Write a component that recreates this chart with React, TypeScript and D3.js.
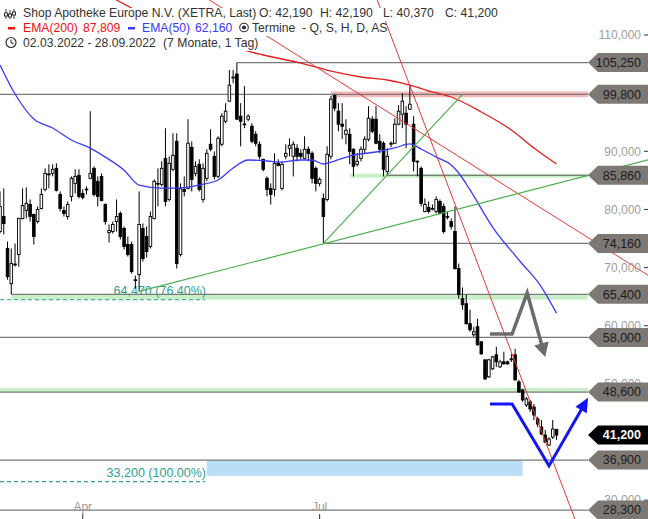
import React from "react";
import * as d3 from "d3";

const W = 648;
const H = 519;
const FONT = "'Liberation Sans', Arial, sans-serif";

// ---- daily OHLC (EUR), 02.03.2022 - 28.09.2022 ----
const opens = [76.21,78.79,73.28,67.24,70.6,72.24,78.45,79.83,80.86,79.14,77.93,80.17,83.45,86.1,86.21,87.07,82.59,79.83,78.79,82.24,84.48,85.86,82.76,83.45,85.35,87.07,84.83,85.69,80.86,76.03,76.21,77.93,79.31,76.72,73.97,73.97,67.9,68.79,76.72,75.35,73.62,78.45,84.4,84.31,88.79,81.72,86.9,91.72,72.24,83.45,83.62,90.69,86.21,87.76,81.72,85.35,91.21,89.14,85.69,91.21,95.17,98.62,102.7,103.28,96.04,94.7,95.52,94.31,92.93,91.21,88.62,85.35,83.62,83.45,87.93,83.62,89.14,90.52,89.14,90.52,89.65,88.79,90.35,89.65,87.07,84.48,81.9,81.72,89.14,99.6,96.9,94.66,92.93,92.93,90.35,87.76,88.79,90.35,92.07,95.52,95.52,91.72,91.38,86.55,91.21,91.38,94.66,96.38,96.55,97.24,94.66,88.3,87.07,79.66,80.35,80.1,79.66,81.38,80.52,78.7,77.93,76.21,69.83,64.66,63.79,60.35,58.45,59.83,57.24,54.14,51.21,52.59,55.0,52.93,53.79,53.79,54.14,55.0,50.35,48.97,46.38,46.9,46.03,43.97,42.59,41.21,39.48,40.86,42.19];
const highs = [83.1,83.62,74.48,73.28,74.14,78.6,83.62,83.79,81.72,79.31,80.52,83.62,87.07,87.76,87.76,87.93,83.1,80.52,81.38,85.69,86.9,86.9,83.45,83.97,96.9,87.41,85.69,86.21,81.03,77.41,77.93,81.72,79.66,77.07,75.35,74.48,68.62,83.1,77.59,77.07,79.66,85.17,87.07,88.28,93.97,89.14,93.1,93.1,84.48,85.69,95.52,91.72,88.28,88.62,87.93,90.35,93.79,90.0,92.59,96.55,98.28,103.97,103.97,105.25,98.28,101.21,96.38,94.83,93.45,91.72,88.7,85.69,84.48,89.65,88.62,88.28,91.21,92.24,91.72,91.21,90.35,92.59,90.86,90.0,87.41,85.52,82.76,90.86,99.48,99.8,98.28,98.28,95.52,93.97,90.52,89.65,90.86,92.59,97.76,96.04,97.76,92.93,91.72,90.52,91.72,95.69,97.93,100.0,97.76,101.21,96.04,88.4,87.41,81.9,81.38,80.86,82.24,81.72,81.03,79.66,78.45,80.52,70.69,66.59,65.35,62.76,59.83,61.21,57.3,54.2,54.31,54.83,56.38,54.14,55.52,54.0,55.17,56.03,50.69,49.14,47.76,47.24,46.55,44.31,43.79,42.07,40.86,43.79,42.19];
const lows = [75.86,75.69,67.93,65.4,70.17,70.17,78.28,78.45,77.93,73.97,77.59,80.0,83.1,83.62,85.69,83.1,79.66,78.79,78.28,81.38,82.76,81.9,81.72,82.59,85.17,82.24,80.52,81.38,77.41,74.31,75.86,76.21,74.83,73.1,71.9,68.97,66.38,65.86,71.03,71.72,73.28,78.28,80.52,83.97,80.52,81.38,86.55,69.83,71.9,82.24,83.45,83.1,85.69,83.1,81.21,84.83,90.0,85.17,85.35,90.86,94.83,98.5,101.72,95.4,90.86,93.97,95.17,91.38,90.86,88.62,86.55,82.24,80.86,82.24,87.41,83.28,88.62,89.14,85.69,88.28,88.62,88.62,88.28,84.48,83.1,83.97,74.16,81.38,88.62,96.9,93.45,92.1,91.21,87.76,85.69,87.41,88.28,89.65,91.72,93.1,91.21,89.65,85.69,85.86,90.69,91.3,94.48,93.97,90.52,97.1,86.55,85.69,80.52,79.48,79.31,79.83,79.31,79.14,75.86,78.28,76.55,69.66,64.66,62.76,60.2,58.97,58.1,56.6,55.0,50.69,51.03,52.41,52.93,52.76,53.28,53.3,53.79,50.6,48.45,46.9,46.03,45.17,43.79,42.59,41.21,39.83,39.31,40.52,40.37];
const closes = [80.52,77.59,68.45,70.69,70.52,78.45,80.69,81.03,78.79,75.35,80.0,82.59,86.21,86.03,86.9,83.28,80.17,79.31,80.86,85.35,85.69,82.24,82.07,83.5,86.21,82.59,82.24,81.55,77.93,76.38,77.41,78.79,75.35,73.62,72.24,69.31,67.76,77.41,71.55,72.76,78.79,84.83,84.48,87.07,81.38,87.93,89.31,70.69,83.62,83.1,91.38,85.17,87.41,83.45,87.07,89.65,90.35,85.69,92.24,96.04,96.9,101.38,102.76,95.52,95.17,94.66,96.04,91.72,91.38,89.14,86.9,83.45,82.59,87.93,87.59,87.76,89.65,91.03,91.21,89.14,89.14,90.35,89.65,85.35,84.48,85.17,78.79,89.48,98.97,97.41,94.66,94.31,93.62,90.0,87.41,88.28,90.35,92.07,95.69,93.45,91.38,90.35,86.9,89.14,91.38,94.66,96.9,98.62,94.66,98.1,88.28,88.28,81.03,80.86,79.66,80.17,81.72,79.31,76.21,78.79,77.07,69.83,65.35,63.62,60.35,59.31,58.97,56.72,55.17,50.86,54.14,54.66,53.79,53.79,53.45,53.45,54.31,50.69,48.62,47.24,47.41,45.69,44.66,43.1,41.38,40.0,40.52,42.24,41.2];

// ---- moving averages (at sample candles) ----
const ema50Idx = [0,4,9,14,19,24,28,33,37,43,47,53,58,62,66,71,74,80,83,86,88,94,100,105,109,112,116,120,122,125,131,138,144,148];
const ema50Val = [104.84,99.85,95.55,94.0,91.94,90.54,89.0,86.76,84.2,83.68,83.68,84.2,85.06,87.13,88.5,88.33,88.15,88.5,88.5,87.82,88.15,89.36,89.88,90.57,91.26,90.4,89.0,87.64,86.27,83.35,76.98,71.31,66.66,62.16];
const ema200Idx = [28,31,35,41,51,60,70,80,89,96,103,109,115,120,128,136,142,148];
const ema200Val = [117.2,116.02,114.64,113.1,110.52,108.28,106.56,105.18,103.64,102.78,102.26,101.4,100.2,99.34,96.76,93.66,90.57,87.81];

// ---- horizontal levels ----
const levelValues = [105.25, 99.8, 85.86, 74.16, 65.4, 58.0, 48.6, 36.9, 28.3];
const levelStartIdx = [63, -2, 103, 86, 3, -2, -2, -2, -2];
const lastClose = 41.2;

// zones
const zoneStart = [88, 93, 3, -2, 55];
const zoneEnd = [null, null, null, null, 139];
const zoneTop = [100.3, 86.15, 65.4, 49.3, 36.9];
const zoneBottom = [99.3, 85.45, 64.47, 48.6, 34.2];
const zoneColor = ["#f6b9b9", "#c8efc8", "#c8efc8", "#c8efc8", "#b9def6"];

// fibonacci levels
const fibValues = [64.47, 33.2];
const fibLabels = ["64,470 (76.40%)", "33,200 (100.00%)"];

// trend lines (anchor points: [index, price])
const redLines = [
  [[109, 101.3], [152.9, 26.77]],
  [[79, 106.56], [157.4, 74.75]],
];
const greenSegment = [[86, 74.16], [123, 99.8]];
const greenRay = [[37, 65.9], [172.3, 88.5]];

// drawn forecast arrows ([index, price])
const blueArrow = [[130.3, 46.55], [136.2, 46.55], [146.0, 35.9], [156.4, 47.6]];
const grayArrow = [[130.3, 58.58], [136.2, 58.58], [140.2, 65.63], [145.0, 54.63]];

// visible axis ticks (100 and 40 sit fully under the price tags)
const yTicks = [30, 50, 60, 70, 80, 90, 110];
const monthLabels = ["Apr", "Jul"];
const monthNums = [3, 6];
const holidays = ["2022-04-15", "2022-04-18"];

const fmtDE = (v: number) => v.toFixed(3).replace(".", ",");

export default function App() {
  const x = d3.scaleLinear().domain([0, 148]).range([0, 556.5]);
  const y = d3.scaleLinear().domain([30, 110]).range([500.2, 35]);

  const dayFmt = d3.timeFormat("%Y-%m-%d");
  const dates = d3
    .timeDay.range(new Date(2022, 2, 2), new Date(2022, 8, 29))
    .filter((d) => d.getDay() % 6 !== 0 && !holidays.includes(dayFmt(d)));
  const monthIdx = monthNums.map((m) => dates.findIndex((d) => d.getMonth() === m));

  const tagTip = 588;
  const tagBase = 598;

  const ema50Path = d3
    .line<number>()
    .x((_, i) => x(ema50Idx[i]))
    .y((d) => y(d))
    .curve(d3.curveMonotoneX)(ema50Val) as string;
  const ema200Path = d3
    .line<number>()
    .x((_, i) => x(ema200Idx[i]))
    .y((d) => y(d))
    .curve(d3.curveMonotoneX)(ema200Val) as string;

  const extend = (seg: number[][], left: boolean, right: boolean) => {
    const x1 = x(seg[0][0]), y1 = y(seg[0][1]);
    const x2 = x(seg[1][0]), y2 = y(seg[1][1]);
    const k = (y2 - y1) / (x2 - x1);
    const xa = left ? -100 : x1;
    const xb = right ? 760 : x2;
    return { x1: xa, y1: y1 + (xa - x1) * k, x2: xb, y2: y1 + (xb - x1) * k };
  };

  const arrow = (pts: number[][], len: number, wid: number) => {
    const px = pts.map((p) => [x(p[0]), y(p[1])]);
    const tip = px[px.length - 1];
    const prev = px[px.length - 2];
    const dx = tip[0] - prev[0], dy = tip[1] - prev[1];
    const L = Math.hypot(dx, dy);
    const ux = dx / L, uy = dy / L;
    const bx = tip[0] - ux * len, by = tip[1] - uy * len;
    const shaft = [...px.slice(0, -1), [bx + ux * 2, by + uy * 2]];
    const head = [
      tip,
      [bx - uy * wid / 2, by + ux * wid / 2],
      [bx + uy * wid / 2, by - ux * wid / 2],
    ];
    return {
      shaft: shaft.map((p) => p.join(",")).join(" "),
      head: head.map((p) => p.join(",")).join(" "),
    };
  };
  const bA = arrow(blueArrow, 14, 13);
  const gA = arrow(grayArrow, 14, 15);

  const tag = (v: number, fill: string, color: string, bold: boolean, key: string) => {
    const yy = y(v);
    const h = 9.5;
    return (
      <g key={key}>
        <polygon
          points={`${tagTip},${yy} ${tagBase},${yy - h} ${W},${yy - h} ${W},${yy + h} ${tagBase},${yy + h}`}
          fill={fill}
        />
        <text
          x={641}
          y={yy}
          dy="0.35em"
          textAnchor="end"
          fontSize={12.5}
          fontWeight={bold ? "bold" : "normal"}
          fill={color}
        >
          {fmtDE(v)}
        </text>
      </g>
    );
  };

  return (
    <svg
      width={W}
      height={H}
      style={{ position: "absolute", left: 0, top: 0, display: "block", background: "#fff" }}
      fontFamily={FONT}
    >
      <defs>
        <clipPath id="plot">
          <rect x={0} y={0} width={W} height={H} />
        </clipPath>
      </defs>
      <rect width={W} height={H} fill="#fff" />
      <g clipPath="url(#plot)">
        {zoneTop.map((t, i) => {
          const x0 = Math.max(0, x(zoneStart[i]));
          const x1 = zoneEnd[i] === null ? tagTip : x(zoneEnd[i] as number);
          return (
            <rect
              key={"z" + i}
              x={x0}
              y={y(t)}
              width={x1 - x0}
              height={y(zoneBottom[i]) - y(t)}
              fill={zoneColor[i]}
            />
          );
        })}
        {fibValues.map((v, i) => (
          <g key={"f" + i}>
            <line x1={0} x2={205} y1={y(v)} y2={y(v)} stroke="#2e9e90" strokeWidth={1.2} strokeDasharray="4,3" />
            <text x={206} y={y(v) - 5} textAnchor="end" fontSize={12.5} fill="#2e9e90">
              {fibLabels[i]}
            </text>
          </g>
        ))}
        {levelValues.map((v, i) => (
          <line
            key={"l" + i}
            x1={Math.max(0, x(levelStartIdx[i]))}
            x2={tagTip}
            y1={y(v)}
            y2={y(v)}
            stroke="#7a7a7a"
            strokeWidth={1.3}
          />
        ))}
        {opens.map((o, i) => {
          const c = closes[i];
          const cx = x(i);
          const up = c >= o;
          const top = y(Math.max(o, c));
          const bot = y(Math.min(o, c));
          return (
            <g key={"c" + i}>
              <line x1={cx} x2={cx} y1={y(highs[i])} y2={y(lows[i])} stroke="#000" strokeWidth={1} />
              <rect
                x={cx - 1.3}
                y={top}
                width={2.6}
                height={Math.max(bot - top, 0.8)}
                fill={up ? "#fff" : "#000"}
                stroke="#000"
                strokeWidth={0.9}
              />
            </g>
          );
        })}
        <path d={ema200Path} fill="none" stroke="#e41e1e" strokeWidth={1.3} />
        <path d={ema50Path} fill="none" stroke="#3a3aff" strokeWidth={1.3} />
        {redLines.map((s, i) => {
          const e = extend(s, true, true);
          return <line key={"r" + i} {...e} stroke="#e53935" strokeWidth={1} />;
        })}
        {(() => {
          const e = extend(greenSegment, false, false);
          return <line {...e} stroke="#4cb04c" strokeWidth={1.2} />;
        })()}
        {(() => {
          const e = extend(greenRay, false, true);
          return <line {...e} stroke="#4cb04c" strokeWidth={1.2} />;
        })()}
        <polyline points={gA.shaft} fill="none" stroke="#6c6c6c" strokeWidth={3.5} strokeLinejoin="miter" />
        <polygon points={gA.head} fill="#6c6c6c" />
        <polyline points={bA.shaft} fill="none" stroke="#1414f5" strokeWidth={3} strokeLinejoin="miter" />
        <polygon points={bA.head} fill="#1414f5" />
      </g>

      {monthIdx.map((mi, i) => (
        <g key={"m" + i}>
          <text x={x(mi)} y={511} textAnchor="middle" fontSize={12} fill="#9a9a9a">
            {monthLabels[i]}
          </text>
          <line x1={x(mi)} x2={x(mi)} y1={514} y2={519} stroke="#333" strokeWidth={1} />
        </g>
      ))}

      {yTicks.map((t) => (
        <g key={"t" + t}>
          <text x={641} y={y(t)} dy="0.35em" textAnchor="end" fontSize={12} fill="#a0a0a0">
            {fmtDE(t)}
          </text>
          <line x1={644} x2={648} y1={y(t)} y2={y(t)} stroke="#333" strokeWidth={1} />
        </g>
      ))}

      {levelValues.map((v, i) => tag(v, "#7d7874", "#1c1c1c", false, "tg" + i))}
      {tag(lastClose, "#000", "#fff", true, "last")}

      <rect x={0} y={8} width={508} height={13} fill="#fff" />
      <rect x={0} y={21} width={330} height={15} fill="#fff" />
      <rect x={0} y={36} width={265} height={15} fill="#fff" />
      <g stroke="#333" strokeWidth={1}>
        <line x1={6} x2={6} y1={9} y2={19} />
        <line x1={10} x2={10} y1={10} y2={19} />
        <line x1={14} x2={14} y1={9} y2={19} />
      </g>
      <rect x={4.5} y={13} width={3} height={3} fill="#fff" stroke="#333" strokeWidth={1} />
      <rect x={8.5} y={14} width={3} height={3} fill="#fff" stroke="#333" strokeWidth={1} />
      <rect x={12.5} y={12} width={3} height={3} fill="#fff" stroke="#333" strokeWidth={1} />
      <g fontSize={12.2} fill="#333">
        <text x={23} y={17}>Shop Apotheke Europe N.V. (XETRA, Last)</text>
        <text x={259} y={17}>O: 42,190</text>
        <text x={320} y={17}>H: 42,190</text>
        <text x={383} y={17}>L: 40,370</text>
        <text x={445} y={17}>C: 41,200</text>
      </g>
      <rect x={8} y={27} width={7} height={2.5} fill="#ee1111" />
      <text x={23} y={31.5} fontSize={12.2} fill="#ee1111">EMA(200)</text>
      <text x={83} y={31.5} fontSize={12.2} fill="#ee1111">87,809</text>
      <rect x={128} y={27} width={7} height={2.5} fill="#3a3aff" />
      <text x={142} y={31.5} fontSize={12.2} fill="#3a3aff">EMA(50)</text>
      <text x={195} y={31.5} fontSize={12.2} fill="#3a3aff">62,160</text>
      <circle cx={244} cy={27.5} r={4.3} fill="none" stroke="#333" strokeWidth={1.1} />
      <circle cx={244} cy={27.5} r={2.1} fill="#333" />
      <text x={252} y={31.5} fontSize={12.2} fill="#333" style={{ whiteSpace: "pre" }}>
        {"Termine  - Q, S, H, D, AS"}
      </text>
      <circle cx={11} cy={42.5} r={5} fill="none" stroke="#333" strokeWidth={1.2} />
      <polyline points="11,39.5 11,42.5 13.5,44" fill="none" stroke="#333" strokeWidth={1.1} />
      <text x={23} y={47} fontSize={12.2} fill="#333">02.03.2022 - 28.09.2022</text>
      <text x={163} y={47} fontSize={12.2} fill="#333">(7 Monate, 1 Tag)</text>
    </svg>
  );
}
